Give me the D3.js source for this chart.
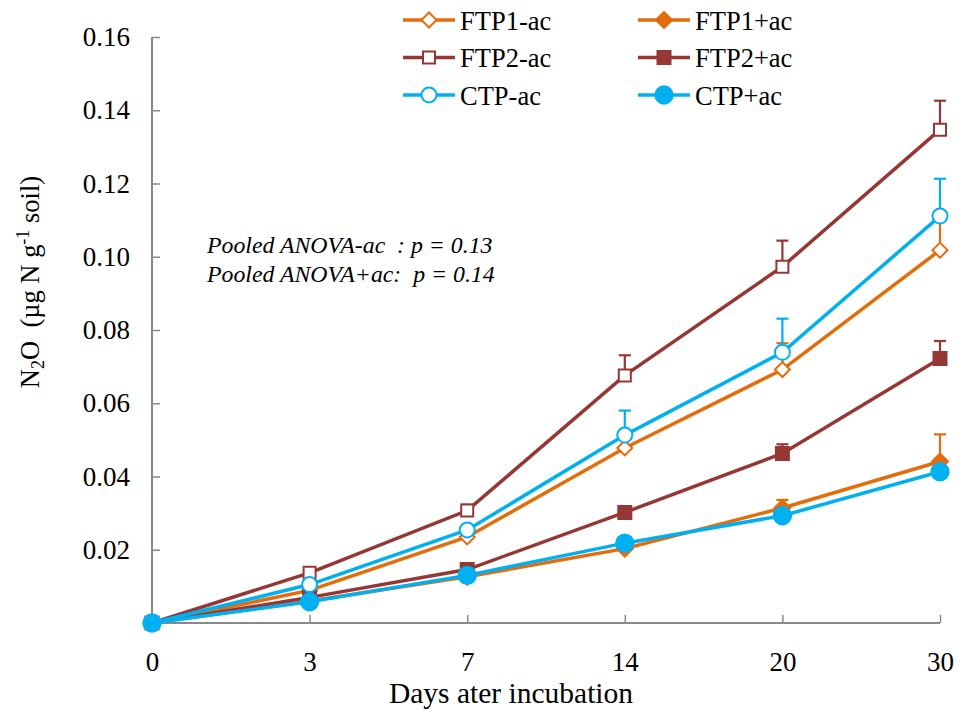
<!DOCTYPE html>
<html><head><meta charset="utf-8">
<script src="https://cdn.jsdelivr.net/npm/d3@7"></script>
<style>body{margin:0;background:#fff}svg{display:block}text{font-family:"Liberation Serif","Times New Roman",serif}</style>
</head><body>
<script>
const days = ["0","3","7","14","20","30"];
const yTicks = [0.02,0.04,0.06,0.08,0.10,0.12,0.14,0.16];
const seriesNames = ["FTP1-ac","FTP1+ac","FTP2-ac","FTP2+ac","CTP-ac","CTP+ac"];
const ftp1Minus = [0,0.0089,0.0235,0.0478,0.0692,0.1018];
const ftp1MinusErr = [0,0,0.0005,0.0025,0.0072,0.008];
const ftp1Plus = [0,0.006,0.0126,0.0203,0.0314,0.0441];
const ftp1PlusErr = [0,0,0.0005,0.0004,0.0022,0.0074];
const ftp2Minus = [0,0.0137,0.0307,0.0676,0.0973,0.1347];
const ftp2MinusErr = [0,0,0.0016,0.0055,0.0071,0.0079];
const ftp2Plus = [0,0.007,0.0146,0.0302,0.0463,0.0722];
const ftp2PlusErr = [0,0,0.0005,0.0005,0.0025,0.0048];
const ctpMinus = [0,0.0105,0.0254,0.0513,0.0739,0.1111];
const ctpMinusErr = [0,0,0.0005,0.0067,0.0092,0.0102];
const ctpPlus = [0,0.0058,0.013,0.0218,0.0293,0.0413];
const ctpPlusErr = [0,0,0,0,0,0];

const series = [
 {name:seriesNames[0], v:ftp1Minus, e:ftp1MinusErr, color:"#E46C0A", shape:"diamond", fill:false},
 {name:seriesNames[1], v:ftp1Plus, e:ftp1PlusErr, color:"#E46C0A", shape:"diamond", fill:true},
 {name:seriesNames[2], v:ftp2Minus, e:ftp2MinusErr, color:"#953735", shape:"square", fill:false},
 {name:seriesNames[3], v:ftp2Plus, e:ftp2PlusErr, color:"#953735", shape:"square", fill:true},
 {name:seriesNames[4], v:ctpMinus, e:ctpMinusErr, color:"#00B0F0", shape:"circle", fill:false},
 {name:seriesNames[5], v:ctpPlus, e:ctpPlusErr, color:"#00B0F0", shape:"circle", fill:true}
];

const W=960,H=713;
const svg=d3.select("body").append("svg").attr("width",W).attr("height",H);
const x=d3.scalePoint().domain(days).range([152,940]);
const y=d3.scaleLinear().domain([0,0.16]).range([623,37]);
const axisColor="#898989";

const ya=svg.append("g").attr("transform","translate(152,0)")
 .call(d3.axisLeft(y).tickValues(yTicks).tickSize(-8).tickPadding(22).tickFormat(d3.format(".2f")));
const xa=svg.append("g").attr("transform","translate(0,623)")
 .call(d3.axisBottom(x).tickSize(-8).tickPadding(29));
[ya,xa].forEach(g=>{
 g.select(".domain").attr("stroke",axisColor).attr("stroke-width",2);
 g.selectAll(".tick line").attr("stroke",axisColor).attr("stroke-width",1.5);
 g.selectAll(".tick text").attr("font-size",27).attr("fill","#000").attr("font-family","Liberation Serif");
});
xa.select(".domain").attr("d","M152,0H940");
ya.select(".domain").attr("d","M0,623V37");

function markerPath(s){
 if(s.shape==="diamond"){const r=s.fill?8:7.5;return `M0,${-r}L${r},0L0,${r}L${-r},0Z`;}
 if(s.shape==="square"){const h=s.fill?6.5:6;return `M${-h},${-h}H${h}V${h}H${-h}Z`;}
 return d3.symbol().type(d3.symbolCircle).size(s.fill?Math.PI*8.7*8.7:Math.PI*7.5*7.5)();
}

const line=d3.line().x((d,i)=>x(days[i])).y(d=>y(d));
series.forEach(s=>{
 const g=svg.append("g");
 s.v.forEach((v,i)=>{
  if(s.e[i]>0){
   const cx=x(days[i]);
   g.append("line").attr("x1",cx).attr("x2",cx).attr("y1",y(v)).attr("y2",y(v+s.e[i])).attr("stroke",s.color).attr("stroke-width",2.2);
   g.append("line").attr("x1",cx-6).attr("x2",cx+6).attr("y1",y(v+s.e[i])).attr("y2",y(v+s.e[i])).attr("stroke",s.color).attr("stroke-width",2.2);
  }
 });
 g.append("path").attr("d",line(s.v)).attr("fill","none").attr("stroke",s.color).attr("stroke-width",3.5);
 s.v.forEach((v,i)=>{
  g.append("path").attr("d",markerPath(s))
   .attr("transform",`translate(${x(days[i])},${y(v)})`)
   .attr("fill",s.fill?s.color:"#fff").attr("stroke",s.color).attr("stroke-width",2);
 });
});

const lg=svg.append("g");
series.forEach((s,i)=>{
 const col=i%2,row=Math.floor(i/2);
 const x0=col?638:403, yy=20+row*37.5;
 lg.append("line").attr("x1",x0).attr("x2",x0+52).attr("y1",yy).attr("y2",yy).attr("stroke",s.color).attr("stroke-width",3.5);
 lg.append("path").attr("d",markerPath(s)).attr("transform",`translate(${x0+26},${yy})`)
  .attr("fill",s.fill?s.color:"#fff").attr("stroke",s.color).attr("stroke-width",2);
 lg.append("text").attr("x",x0+57).attr("y",yy+9.5).attr("font-size",26.5).text(s.name);
});

svg.append("text").attr("x",207).attr("y",253).attr("font-size",23.8).attr("font-style","italic").attr("xml:space","preserve").text("Pooled ANOVA-ac  : p = 0.13");
svg.append("text").attr("x",207).attr("y",282).attr("font-size",23.8).attr("font-style","italic").attr("xml:space","preserve").text("Pooled ANOVA+ac:  p = 0.14");

svg.append("text").attr("x",511).attr("y",703).attr("text-anchor","middle").attr("font-size",29.5).text("Days ater incubation");
const yt=svg.append("text").attr("transform","translate(39,282) rotate(-90)").attr("text-anchor","middle").attr("font-size",26.5).attr("xml:space","preserve");
yt.append("tspan").text("N");
yt.append("tspan").attr("font-size",18).attr("dy",5).text("2");
yt.append("tspan").attr("dy",-5).text("O  (µg N g");
yt.append("tspan").attr("font-size",18).attr("dy",-10).text("-1");
yt.append("tspan").attr("dy",10).text(" soil)");
</script>
</body></html>
